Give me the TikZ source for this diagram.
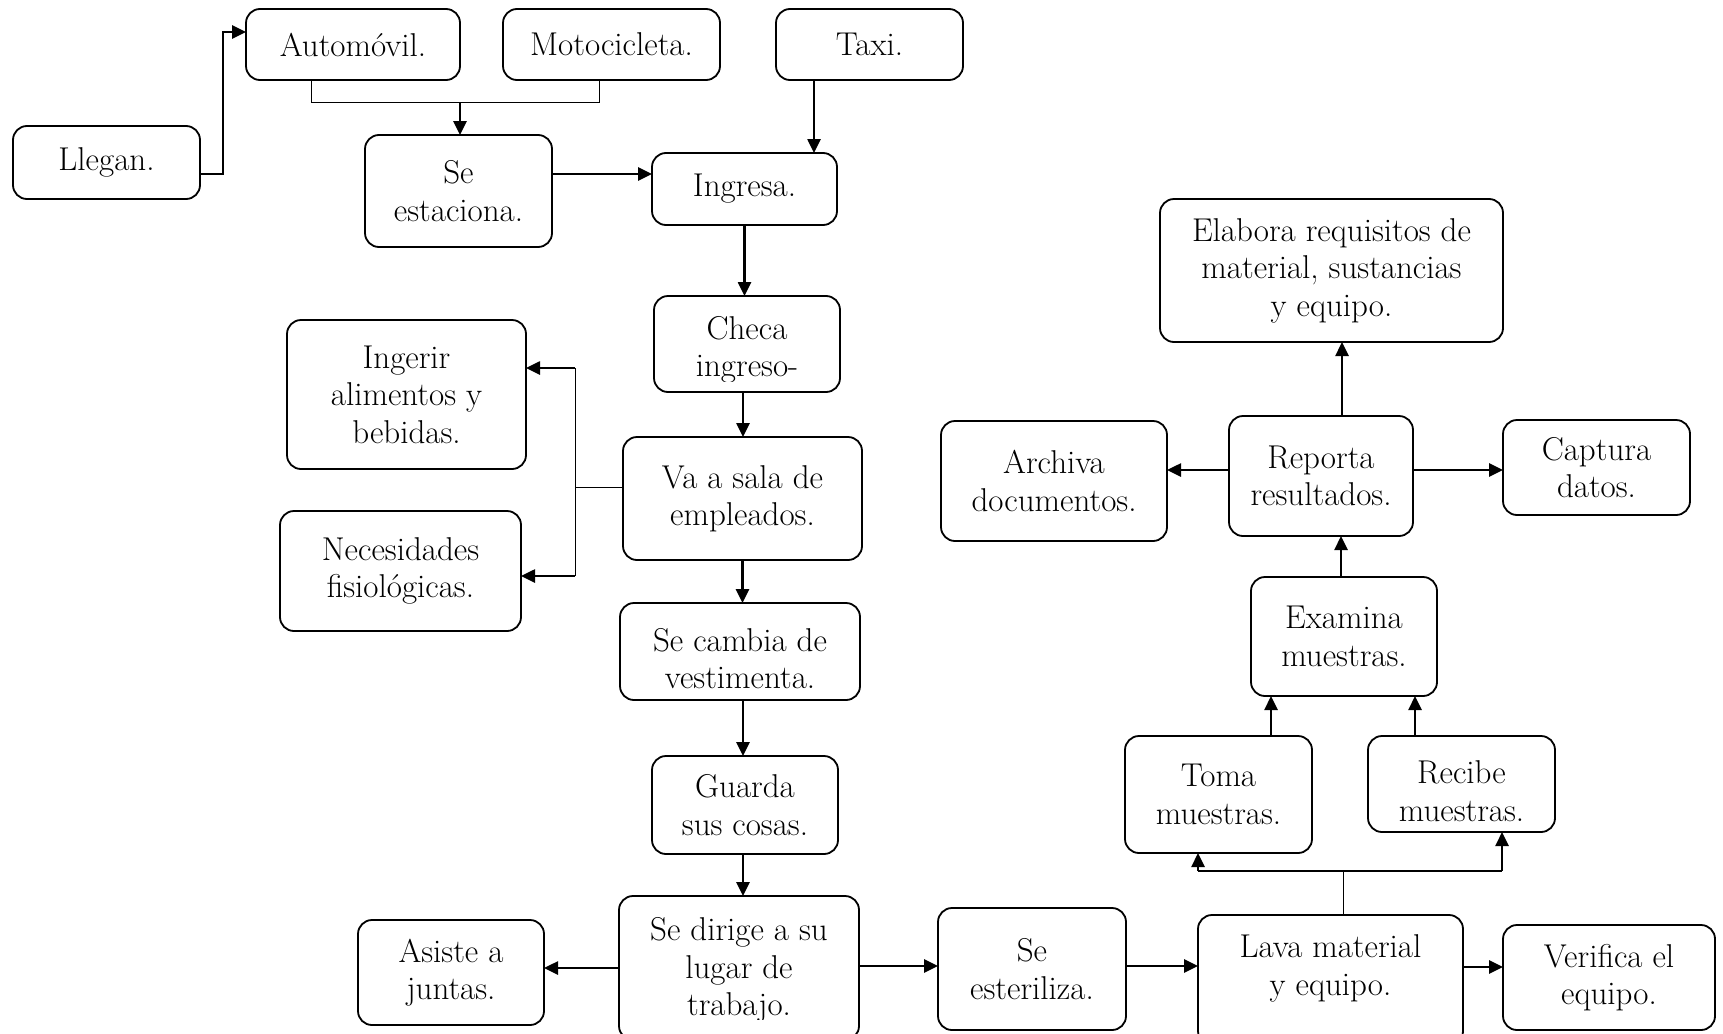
\documentclass[tikz,border=0pt]{standalone}
\usetikzlibrary{arrows.meta,calc}
\tikzset{
  lbl/.style={font=\fontsize{16.5}{18.7}\selectfont, align=center},
  box/.style={draw, line width=0.9pt, rounded corners=7pt, inner sep=0pt,
    outer sep=0pt, lbl},
  txt/.style={inner sep=0pt, lbl},
  arr/.style={line width=1.3pt, -{Triangle[length=7pt,width=6.5pt]}},
  thinline/.style={line width=0.5pt},
  medline/.style={line width=0.9pt},
}
\begin{document}
\begin{tikzpicture}[x=0.5pt,y=-0.5pt]
\fill[white] (0,0) rectangle (1723,1033);
\clip (0,0) rectangle (1723,1033);

% --- arrival and entry ---
\node[box, minimum width=93.5pt, minimum height=36.5pt] (llegan) at (106.5,162.5) {Llegan.};
\node[box, minimum width=107pt, minimum height=35.5pt] (auto) at (353,44.5) {Automóvil.};
\node[box, minimum width=108.5pt, minimum height=35.5pt] (moto) at (611.5,44.5) {Motocicleta.};
\node[box, minimum width=93.5pt, minimum height=35.5pt] (taxi) at (869.5,44.5) {Taxi.};
\node[box, minimum width=93.5pt, minimum height=56pt] (estac) at (458.5,191) {Se\\estaciona.};
\node[box, minimum width=92.5pt, minimum height=36pt] (ingresa) at (744.5,189) {Ingresa.};
\node[box, minimum width=93pt, minimum height=48pt,
  path picture={\clip ($(path picture bounding box.south west)+(0,-11)$) rectangle (path picture bounding box.north east);
    \node[txt] (checa-t) at ($(path picture bounding box.center)+(0,6)$) {Checa\\ingreso-};}]
  (checa) at (747,344) {};

% --- break room ---
\node[box, minimum width=119.5pt, minimum height=74.5pt] (ingerir) at (406.5,394.5) {Ingerir\\alimentos y\\bebidas.};
\node[box, minimum width=120.5pt, minimum height=60pt] (neces) at (400.5,571) {Necesidades\\fisiológicas.};
\node[box, minimum width=119.5pt, minimum height=61.5pt] (vasala) at (742.5,498.5) {Va a sala de\\empleados.};
\node[box, minimum width=120pt, minimum height=48.5pt,
  path picture={\clip ($(path picture bounding box.south west)+(0,-12)$) rectangle (path picture bounding box.north east);
    \node[txt] (cambia-t) at ($(path picture bounding box.center)+(0,7)$) {Se cambia de\\vestimenta.};}]
  (cambia) at (740,651.5) {};
\node[box, minimum width=93pt, minimum height=49pt] (guarda) at (745,805) {Guarda\\sus cosas.};

% --- work area ---
\node[box, minimum width=120pt, minimum height=72pt,
  path picture={\clip ($(path picture bounding box.south west)+(0,-21)$) rectangle (path picture bounding box.north east);
    \node[txt] (dirige-t) at ($(path picture bounding box.center)+(0,2)$) {Se dirige a su\\lugar de\\trabajo.};}]
  (dirige) at (739,968) {};
\node[box, minimum width=93pt, minimum height=52.5pt] (asiste) at (451,972.5) {Asiste a\\juntas.};
\node[box, minimum width=94pt, minimum height=61pt] (ester) at (1032,969) {Se\\esteriliza.};
\node[box, minimum width=132.5pt, minimum height=65pt,
  path picture={\node[txt] (lava-t) at ($(path picture bounding box.center)+(0,-11.5)$) {Lava material\\y equipo.};}]
  (lava) at (1330.5,980) {};
\node[box, minimum width=106pt, minimum height=52.5pt] (verifica) at (1609,977.5) {Verifica el\\equipo.};

% --- laboratory ---
\node[box, minimum width=93.5pt, minimum height=58.5pt] (toma) at (1218.5,794.5) {Toma\\muestras.};
\node[box, minimum width=93.5pt, minimum height=48pt,
  path picture={\clip ($(path picture bounding box.south west)+(0,-9)$) rectangle (path picture bounding box.north east);
    \node[txt] (recibe-t) at ($(path picture bounding box.center)+(0,7)$) {Recibe\\muestras.};}]
  (recibe) at (1461.5,784) {};
\node[box, minimum width=93pt, minimum height=59.5pt] (examina) at (1344,636.5) {Examina\\muestras.};
\node[box, minimum width=92pt, minimum height=60pt] (reporta) at (1321,476) {Reporta\\resultados.};
\node[box, minimum width=113pt, minimum height=60pt] (archiva) at (1054,481) {Archiva\\documentos.};
\node[box, minimum width=93.5pt, minimum height=47.5pt] (captura) at (1596.5,467.5) {Captura\\datos.};
\node[box, minimum width=171.5pt, minimum height=71.5pt] (elabora) at (1331.5,270.5) {Elabora requisitos de\\material, sustancias\\y equipo.};

% --- connectors: arrival ---
\draw[arr] ($(llegan.east)+(0,11.5)$) -| ($(auto.west)+(-23,-12.5)$) -- ($(auto.west)+(0,-12.5)$);
\draw[thinline] ($(auto.south)+(-42,0)$) -- ++(0,22) -| ($(moto.south)+(-12.5,0)$);
\coordinate (mj) at ($(auto.south)+(107,22)$);
\draw[arr] (mj) -- (mj |- estac.north);
\coordinate (tx) at ($(taxi.south)+(-55.5,0)$);
\draw[arr] (tx) -- (tx |- ingresa.north);
\coordinate (es) at ($(estac.east)+(0,-17)$);
\draw[arr] (es) -- (es -| ingresa.west);
\draw[arr] (ingresa.south) -- (ingresa.south |- checa.north);
\draw[arr] ($(checa.south)+(-4,0)$) coordinate (cs) -- (cs |- vasala.north);

% --- connectors: break room ---
\coordinate (bt) at ($(ingerir.east)+(49,-26.5)$);
\coordinate (bb) at ($(neces.east)+(54,5)$);
\draw[thinline] (bt) -- (bb);
\coordinate (vw) at ($(vasala.west)+(0,-11.5)$);
\draw[thinline] (vw) -- (vw -| bt);
\draw[arr] (bt) -- (bt -| ingerir.east);
\draw[arr] (bb) -- (bb -| neces.east);
\draw[arr] (vasala.south) -- (vasala.south |- cambia.north);
\coordinate (cb) at ($(cambia.south)+(3,0)$);
\draw[arr] (cb) -- (cb |- guarda.north);
\coordinate (gd) at ($(guarda.south)+(-2,0)$);
\draw[arr] (gd) -- (gd |- dirige.north);

% --- connectors: work area ---
\draw[arr] (dirige.west) -- (dirige.west -| asiste.east);
\coordinate (de) at ($(dirige.east)+(0,-2)$);
\draw[arr] (de) -- (de -| ester.west);
\coordinate (ee) at ($(ester.east)+(0,-3)$);
\draw[arr] (ee) -- (ee -| lava.west);
\coordinate (le) at ($(lava.east)+(0,-13)$);
\draw[arr] (le) -- (le -| verifica.west);

% --- connectors: laboratory ---
\draw[thinline] ($(lava.north)+(12.5,0)$) -- ++(0,-44) coordinate (lj);
\coordinate (tl) at ($(toma.south)+(-20.5,0)$);
\coordinate (rc) at ($(recibe.south)+(40.5,0)$);
\draw[medline] (lj -| tl) -- (lj -| rc);
\draw[arr] (lj -| tl) -- (tl);
\draw[arr] (lj -| rc) -- (rc);
\coordinate (tn) at ($(toma.north)+(52.5,0)$);
\draw[arr] (tn) -- (tn |- examina.south);
\coordinate (rn) at ($(recibe.north)+(-46.5,0)$);
\draw[arr] (rn) -- (rn |- examina.south);
\coordinate (xn) at ($(examina.north)+(-3,0)$);
\draw[arr] (xn) -- (xn |- reporta.south);
\coordinate (rp) at ($(reporta.north)+(21,0)$);
\draw[arr] (rp) -- (rp |- elabora.south);
\coordinate (rw) at ($(reporta.west)+(0,-6)$);
\draw[arr] (rw) -- (rw -| archiva.east);
\coordinate (re) at ($(reporta.east)+(0,-6)$);
\draw[arr] (re) -- (re -| captura.west);
\end{tikzpicture}
\end{document}
